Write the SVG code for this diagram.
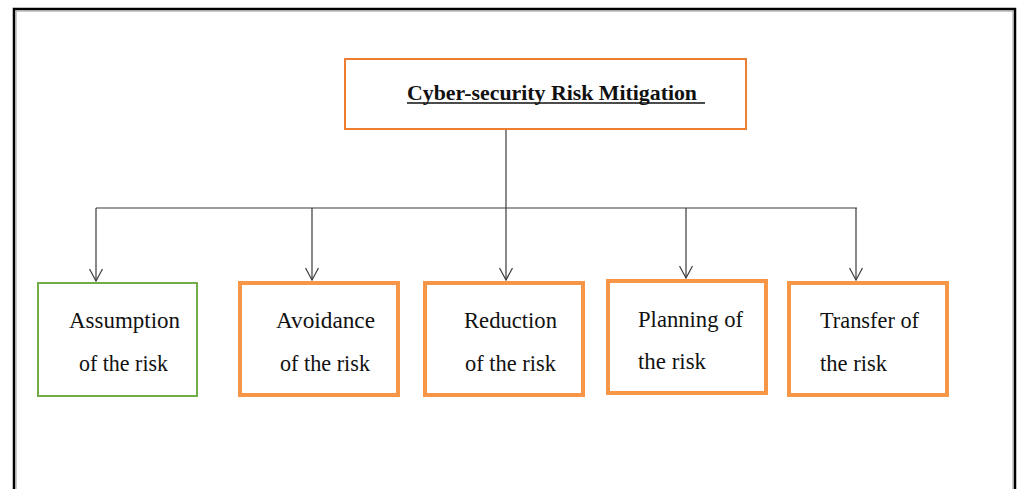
<svg xmlns="http://www.w3.org/2000/svg" width="1020" height="489" viewBox="0 0 1020 489">
  <style>
    .frame { fill: none; stroke: #000; stroke-width: 2.5; }
    .frame-in { fill: none; stroke: #9a9a9a; stroke-width: 1; }
    .title-box { fill: #fff; stroke: #ED7D31; stroke-width: 2; }
    .box-orange { fill: #fff; stroke: #F79646; stroke-width: 4; }
    .box-green { fill: #fff; stroke: #70AD47; stroke-width: 2; }
    .link { fill: none; stroke: #3a3a3a; stroke-width: 1.2; }
    .title { font-family: "Liberation Serif", "DejaVu Serif", serif; font-size: 21px; font-weight: bold; fill: #111; }
    .label { font-family: "Liberation Serif", "DejaVu Serif", serif; font-size: 23px; fill: #111; }
  </style>
  <defs>
    <!-- open chevron, tip on the line end -->
    <marker id="vee" viewBox="0 0 14 14" refX="13" refY="7" markerWidth="14" markerHeight="14" markerUnits="userSpaceOnUse" orient="auto">
      <path d="M1,0.5 L13,7 L1,13.5" fill="none" stroke="#3a3a3a" stroke-width="1.2"/>
    </marker>
  </defs>

  <rect width="1020" height="489" fill="#fff"/>

  <!-- page frame -->
  <path class="frame" d="M14,500 V9 H1015 V500"/>
  <path class="frame-in" d="M16,500 V11 H1013 V500"/>

  <!-- connectors -->
  <g id="connectors">
    <path class="link" d="M506,130 V208"/>
    <path class="link" d="M96,208 H857"/>
    <path class="link" d="M96,208 V281" marker-end="url(#vee)"/>
    <path class="link" d="M312,208 V280" marker-end="url(#vee)"/>
    <path class="link" d="M506,208 V280" marker-end="url(#vee)"/>
    <path class="link" d="M686,208 V278" marker-end="url(#vee)"/>
    <path class="link" d="M856,208 V280" marker-end="url(#vee)"/>
  </g>

  <g id="mitigation">
    <rect class="title-box" x="345" y="59" width="401" height="70"/>
    <text class="title" x="407" y="100" textLength="290" lengthAdjust="spacingAndGlyphs">Cyber-security Risk Mitigation</text>
    <line x1="407" y1="103" x2="705" y2="103" stroke="#111" stroke-width="1.3"/>
  </g>

  <g id="assumption">
    <rect class="box-green" x="38" y="283" width="159" height="113"/>
    <text class="label" x="69" y="328" textLength="111" lengthAdjust="spacingAndGlyphs">Assumption</text>
    <text class="label" x="79" y="371" textLength="89" lengthAdjust="spacingAndGlyphs">of the risk</text>
  </g>

  <g id="avoidance">
    <rect class="box-orange" x="240" y="283" width="158" height="112"/>
    <text class="label" x="276" y="328" textLength="99" lengthAdjust="spacingAndGlyphs">Avoidance</text>
    <text class="label" x="280" y="371" textLength="90" lengthAdjust="spacingAndGlyphs">of the risk</text>
  </g>

  <g id="reduction">
    <rect class="box-orange" x="425" y="283" width="158" height="112"/>
    <text class="label" x="464" y="328" textLength="93" lengthAdjust="spacingAndGlyphs">Reduction</text>
    <text class="label" x="465" y="371" textLength="91" lengthAdjust="spacingAndGlyphs">of the risk</text>
  </g>

  <g id="planning">
    <rect class="box-orange" x="608" y="281" width="158" height="112"/>
    <text class="label" x="638" y="327" textLength="105" lengthAdjust="spacingAndGlyphs">Planning of</text>
    <text class="label" x="638" y="369" textLength="68" lengthAdjust="spacingAndGlyphs">the risk</text>
  </g>

  <g id="transfer">
    <rect class="box-orange" x="789" y="283" width="158" height="112"/>
    <text class="label" x="820" y="328" textLength="99" lengthAdjust="spacingAndGlyphs">Transfer of</text>
    <text class="label" x="820" y="371" textLength="67" lengthAdjust="spacingAndGlyphs">the risk</text>
  </g>
</svg>
